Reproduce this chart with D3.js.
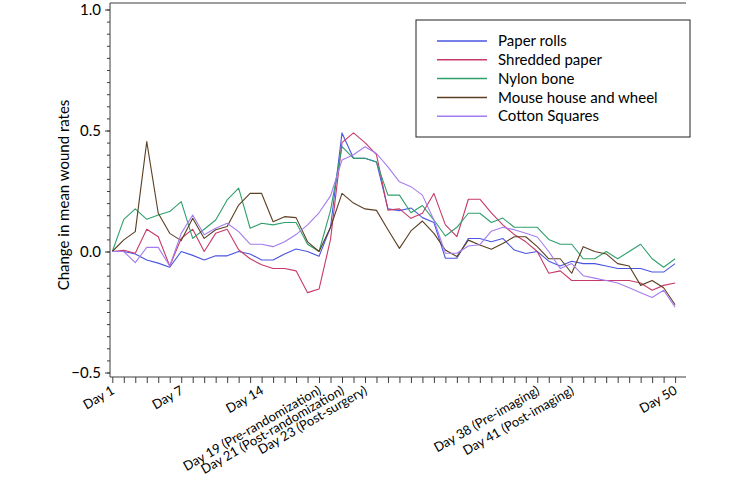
<!DOCTYPE html>
<html lang="en">
<head>
  <meta charset="UTF-8">
  <title>Change in mean wound rates</title>
  <style>
    body { margin: 0; background: #fff; }
    svg { display: block; font-family: Lato, "Open Sans", sans-serif; }
  </style>
</head>
<body>
<svg width="745" height="484"></svg>

<script src="https://cdn.jsdelivr.net/npm/d3@7/dist/d3.min.js"></script>
<script>
  // days 1..50
  var days = d3.range(1, 51);
  var seriesNames = ['Paper rolls', 'Shredded paper', 'Nylon bone', 'Mouse house and wheel', 'Cotton Squares'];
  var seriesColors = ['#4a56e0', '#c73a67', '#2f9f6c', '#5b3f22', '#a47cf0'];

  var paperRolls = [0, 0, -0.01, -0.035, -0.048, -0.065, 0, -0.016, -0.035, -0.018,
    -0.018, 0, -0.01, -0.035, -0.035, -0.01, 0.01, 0, -0.02, 0.1,
    0.49, 0.385, 0.385, 0.37, 0.176, 0.169, 0.18, 0.14, 0.12, -0.028,
    -0.028, 0.054, 0.054, 0.04, 0.054, 0.006, -0.008, 0, -0.04, -0.06,
    -0.04, -0.05, -0.05, -0.06, -0.07, -0.07, -0.07, -0.085, -0.085, -0.05];
  var shreddedPaper = [0, 0.005, -0.007, 0.092, 0.061, -0.06, 0.054, 0.092, 0, 0.075,
    0.092, 0.007, -0.03, -0.055, -0.07, -0.07, -0.08, -0.17, -0.155, 0.05,
    0.45, 0.49, 0.45, 0.4, 0.171, 0.176, 0.137, 0.158, 0.24, 0.11,
    0.061, 0.216, 0.216, 0.16, 0.11, 0.07, 0.04, 0, -0.09, -0.08,
    -0.12, -0.12, -0.12, -0.12, -0.12, -0.12, -0.13, -0.16, -0.14, -0.13];
  var nylonBone = [0, 0.133, 0.176, 0.133, 0.151, 0.165, 0.206, 0.054, 0.092, 0.13,
    0.213, 0.262, 0.096, 0.117, 0.11, 0.12, 0.12, 0.03, 0, 0.17,
    0.433, 0.385, 0.385, 0.37, 0.233, 0.233, 0.16, 0.19, 0.13, 0.064,
    0.1, 0.158, 0.158, 0.12, 0.138, 0.1, 0.1, 0.1, 0.05, 0.03,
    0.03, -0.03, -0.03, 0, -0.03, 0, 0.03, -0.03, -0.065, -0.03];
  var mouseHouse = [0, 0.048, 0.082, 0.454, 0.158, 0.075, 0.045, 0.137, 0.054, 0.09,
    0.103, 0.192, 0.24, 0.24, 0.123, 0.144, 0.14, 0.04, 0, 0.1,
    0.24, 0.2, 0.176, 0.17, 0.09, 0.013, 0.085, 0.126, 0.075, 0.006,
    -0.021, 0.047, 0.027, 0.009, 0.033, 0.061, 0.061, 0.02, -0.03, -0.03,
    -0.09, 0.02, 0, -0.01, -0.05, -0.06, -0.14, -0.12, -0.15, -0.22];
  var cottonSquares = [0, 0, -0.046, 0.017, 0.017, -0.06, 0.075, 0.151, 0.069, 0.096,
    0.117, 0.082, 0.03, 0.03, 0.02, 0.04, 0.07, 0.11, 0.16, 0.23,
    0.378, 0.4, 0.433, 0.405, 0.35, 0.288, 0.268, 0.233, 0.13, -0.007,
    -0.007, 0.023, 0.028, 0.084, 0.1, 0.09, 0.075, 0.06, 0, -0.07,
    -0.05, -0.1, -0.11, -0.12, -0.13, -0.15, -0.17, -0.19, -0.16, -0.23];

  var tickDays = [1, 7, 14, 19, 21, 23, 38, 41, 50];
  var tickLabels = ['Day 1', 'Day 7', 'Day 14', 'Day 19 (Pre-randomization)', 'Day 21 (Post-randomization)',
    'Day 23 (Post-surgery)', 'Day 38 (Pre-imaging)', 'Day 41 (Post-imaging)', 'Day 50'];
  var yTicks = [-0.5, 0.0, 0.5, 1.0];

  var allSeries = [paperRolls, shreddedPaper, nylonBone, mouseHouse, cottonSquares];

  var svg = d3.select('svg');
  var frame = {left: 110, right: 686, top: 3, bottom: 377};

  var x = d3.scaleLinear().domain([1, 50]).range([112.3, 675.1]);
  var y = d3.scaleLinear().domain([-0.5, 1.0]).range([372.5, 9.5]);

  var axisColor = '#3c3c3c';

  // frame lines (left, top, bottom)
  svg.append('path')
    .attr('d', `M${frame.right},${frame.top}H${frame.left}V${frame.bottom}H${frame.right}`)
    .attr('fill', 'none').attr('stroke', axisColor).attr('stroke-width', 1);

  // y axis: minor ticks every 0.05, then labelled majors
  var gy = svg.append('g').attr('transform', `translate(${frame.left},0)`);
  gy.call(d3.axisLeft(y).tickValues(d3.range(-0.5, 1.0001, 0.05)).tickSize(3).tickFormat(''))
    .call(g => g.select('.domain').remove());
  gy.selectAll('line').attr('stroke', axisColor);
  var gyMajor = svg.append('g').attr('transform', `translate(${frame.left},0)`);
  gyMajor.call(d3.axisLeft(y).tickValues(yTicks).tickSize(5).tickPadding(4).tickFormat(d3.format('.1f')))
    .call(g => g.select('.domain').remove());
  gyMajor.selectAll('line').attr('stroke', axisColor);
  gyMajor.selectAll('text').attr('font-size', 15).attr('fill', '#000')
    .attr('font-family', 'Lato, "Open Sans", sans-serif');

  // y title
  svg.append('text')
    .attr('transform', 'translate(68.5,195) rotate(-90)')
    .attr('text-anchor', 'middle')
    .attr('font-size', 15)
    .text('Change in mean wound rates');

  // x axis ticks, one per day
  var gx = svg.append('g').attr('transform', `translate(0,${frame.bottom})`);
  gx.call(d3.axisBottom(x).tickValues(days).tickSize(6).tickFormat(''))
    .call(g => g.select('.domain').remove());
  gx.selectAll('line').attr('stroke', axisColor);

  // x labels, rotated
  svg.append('g').selectAll('text').data(tickDays).enter().append('text')
    .attr('transform', (d) => `translate(${x(d) + 3},${frame.bottom + 16}) rotate(-30)`)
    .attr('text-anchor', 'end')
    .attr('font-size', 13)
    .text((d, i) => tickLabels[i]);

  // series lines
  var line = d3.line().x((d, i) => x(days[i])).y((d) => y(d));
  svg.append('g').selectAll('path').data(allSeries).enter().append('path')
    .attr('d', (d) => line(d))
    .attr('fill', 'none')
    .attr('stroke', (d, i) => seriesColors[i])
    .attr('stroke-width', 1.1)
    .attr('stroke-linejoin', 'round');

  // legend
  var lg = svg.append('g').attr('transform', 'translate(416,20)');
  lg.append('rect').attr('width', 274).attr('height', 117)
    .attr('fill', '#fff').attr('stroke', '#222').attr('stroke-width', 1);
  var rows = lg.selectAll('.row').data(seriesNames).enter().append('g')
    .attr('transform', (d, i) => `translate(0,${21 + i * 18.8})`);
  rows.append('line').attr('x1', 21).attr('x2', 71)
    .attr('stroke', (d, i) => seriesColors[i]).attr('stroke-width', 1.5);
  rows.append('text').attr('x', 82).attr('dy', '0.35em').attr('font-size', 15).text((d) => d);
</script>
</body>
</html>
